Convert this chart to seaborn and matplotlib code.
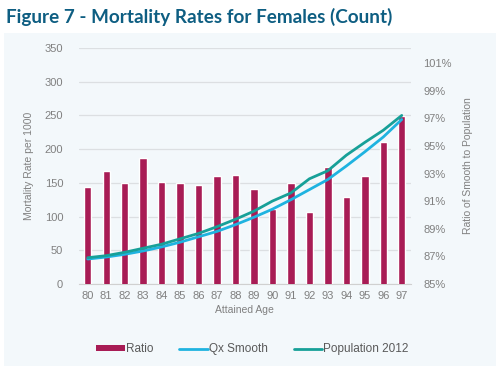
import numpy as np
import pandas as pd
import matplotlib
matplotlib.use("Agg")
import matplotlib.pyplot as plt
from matplotlib.patches import Rectangle, Patch
from matplotlib.lines import Line2D
from matplotlib.ticker import FuncFormatter
import seaborn as sns

# Values
ages = [80, 81, 82, 83, 84, 85, 86, 87, 88, 89, 90, 91, 92, 93, 94, 95, 96, 97]
ratio = [92.0, 93.2, 92.3, 94.1, 92.4, 92.3, 92.2, 92.8, 92.9, 91.9,
         90.4, 92.3, 90.2, 93.45, 91.3, 92.8, 95.3, 97.2]
qx_smooth = [37, 40, 44, 49, 55, 62, 70, 78, 88, 99,
             111, 125, 140, 155, 175, 196, 218, 244]
population_2012 = [39, 42, 47, 53, 59, 67, 75, 85, 96, 108,
                   123, 135, 156, 168, 191, 210, 228, 250]

left_ticks = [0, 50, 100, 150, 200, 250, 300, 350]
right_ticks = [85, 87, 89, 91, 93, 95, 97, 99, 101]

bar_color = "#A81C55"
qx_color = "#1FB3E0"
pop_color = "#17A098"
title_color = "#0E5E82"
text_color = "#808080"

df = pd.DataFrame({
    "age": [str(a) for a in ages],
    "pos": np.arange(len(ages)),
    "ratio": ratio,
    "qx": qx_smooth,
    "pop": population_2012,
})

sns.set_style("white")
plt.rcParams["font.family"] = ["Liberation Sans", "DejaVu Sans"]

fig = plt.figure(figsize=(5, 3.76), dpi=100)
fig.patch.set_facecolor("white")

# light panel behind the chart
fig.patches.append(Rectangle((0.008, 0.027), 0.984, 0.885, transform=fig.transFigure,
                             facecolor="#F3F8FB", edgecolor="none", zorder=-10))

fig.text(0.012, 0.955, "Figure 7 - Mortality Rates for Females (Count)",
         fontsize=13.6, fontweight="bold", color=title_color, family="Lato",
         va="center", ha="left")

pos = [0.157, 0.2447, 0.665, 0.6277]
ax_grid = fig.add_axes(pos)
ax_grid.set_facecolor("none")
ax_bar = ax_grid.twinx()
ax_line = ax_grid.twinx()

# gridlines on the left scale
ax_grid.set_ylim(0, 350)
ax_grid.set_yticks(left_ticks)
ax_grid.grid(axis="y", color="#DCDFE2", linewidth=0.9)
ax_grid.set_axisbelow(True)

# bars on the right scale
sns.barplot(data=df, x="pos", y="ratio", color=bar_color, width=0.4,
            saturation=1, ax=ax_bar, zorder=2)
ax_bar.set_ylim(85, 102.1)
ax_bar.set_yticks(right_ticks)
ax_bar.yaxis.set_major_formatter(FuncFormatter(lambda v, p: f"{v:.0f}%"))
ax_bar.set_ylabel("Ratio of Smooth to Population", color=text_color, fontsize=7.5,
                  labelpad=8)

# lines on the left scale
sns.lineplot(data=df, x="pos", y="qx", color=qx_color, linewidth=2, ax=ax_line)
sns.lineplot(data=df, x="pos", y="pop", color=pop_color, linewidth=2, ax=ax_line)
ax_line.set_ylim(0, 350)
ax_line.set_yticks([])
ax_line.set_ylabel("")

ax_grid.set_xlim(-0.5, len(ages) - 0.5)
ax_grid.set_xticks(df["pos"])
ax_grid.set_xticklabels(df["age"])
ax_grid.set_xlabel("Attained Age", color=text_color, fontsize=7.5, labelpad=3)
ax_grid.set_ylabel("Mortality Rate per 1000", color=text_color, fontsize=7.5,
                   labelpad=8)
ax_bar.set_xlabel("")

for a in (ax_grid, ax_bar, ax_line):
    for s in a.spines.values():
        s.set_visible(False)
    a.tick_params(length=0, colors=text_color, labelsize=8)
ax_grid.tick_params(axis="y", pad=11)
ax_bar.tick_params(axis="y", pad=9)
ax_grid.tick_params(axis="x", pad=5)
ax_bar.tick_params(axis="x", labelbottom=False)
ax_line.tick_params(axis="x", labelbottom=False)
ax_grid.spines["bottom"].set_visible(True)
ax_grid.spines["bottom"].set_color("#D0D0D0")

handles = [
    Patch(facecolor=bar_color, edgecolor="none"),
    Line2D([], [], color=qx_color, linewidth=2),
    Line2D([], [], color=pop_color, linewidth=2),
]
fig.legend(handles, ["Ratio", "Qx Smooth", "Population 2012"],
           loc="center", bbox_to_anchor=(0.505, 0.071), ncol=3, frameon=False,
           fontsize=8.5, labelcolor="#595959", handlelength=2.4, handleheight=0.5,
           handletextpad=0.1, columnspacing=2.2)

fig.savefig("out.png", dpi=100)
